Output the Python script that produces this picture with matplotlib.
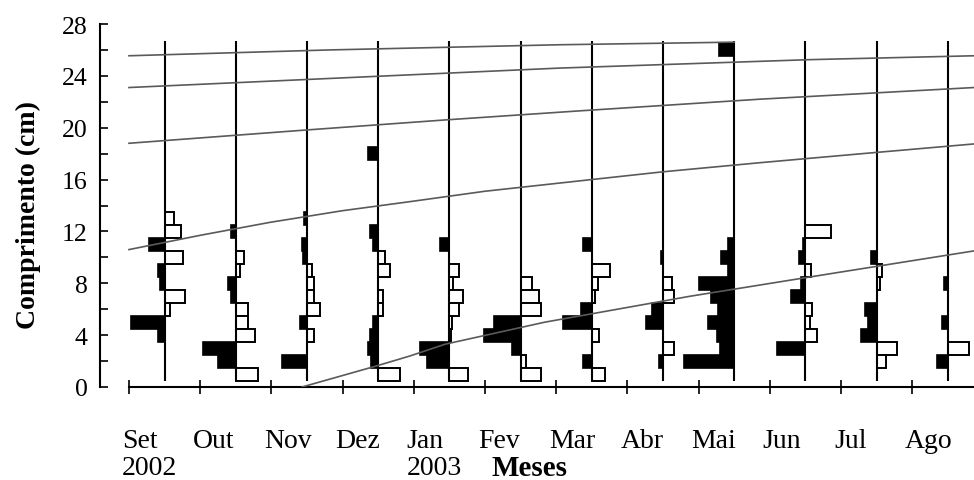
import numpy as np
import matplotlib
matplotlib.use("Agg")
import matplotlib.pyplot as plt

plt.rcParams['font.family'] = ['Liberation Serif', 'DejaVu Serif']

# meses de amostragem (set/2002 a ago/2003)
meses = ['Set', 'Out', 'Nov', 'Dez', 'Jan', 'Fev', 'Mar', 'Abr', 'Mai', 'Jun', 'Jul', 'Ago']
anos = {0: '2002', 4: '2003'}

# frequencia por classe de comprimento (cm) - barras pretas (esquerda)
freq_preto = [
    {11: 16, 9: 7, 8: 5, 5: 34, 4: 7},
    {12: 5, 8: 8, 7: 5, 3: 33, 2: 18},
    {13: 3, 11: 5, 10: 4, 5: 7, 2: 25},
    {18: 10.5, 12: 8.5, 11: 5, 5: 5, 4: 8, 3: 10.5, 2: 7.5},
    {11: 9, 3: 29, 2: 22},
    {5: 26.5, 4: 36.5, 3: 8.3},
    {11: 8.3, 6: 10.7, 5: 28.3, 2: 8.3},
    {10: 1.5, 6: 10.7, 5: 16.7, 2: 3.5},
    {26: 14.7, 11: 6, 10: 13.3, 9: 6, 8: 34.7, 7: 23.3, 6: 16, 5: 26.3, 4: 17, 3: 13.7, 2: 50},
    {11: 2, 10: 6.7, 8: 4, 7: 14.7, 3: 28},
    {10: 5.3, 6: 12, 5: 8.7, 4: 15.3},
    {8: 3.5, 5: 5.3, 2: 10.3},
]

# barras brancas (direita)
freq_branco = [
    {13: 9, 12: 16, 10: 18, 7: 20, 6: 5},
    {10: 8, 9: 4, 6: 12, 5: 12, 4: 19, 1: 22},
    {9: 5, 8: 7, 7: 7, 6: 13.5, 4: 7},
    {10: 6.7, 9: 11.5, 7: 5, 6: 5, 1: 22},
    {9: 10, 8: 3.3, 7: 13.3, 6: 9.5, 5: 2.3, 4: 2, 1: 18.3},
    {8: 11.7, 7: 18.5, 6: 20, 2: 5, 1: 20},
    {9: 18.3, 8: 6.7, 7: 3.3, 4: 7.3, 1: 13.3},
    {8: 9, 7: 10.7, 3: 10.7},
    {},
    {12: 25.3, 9: 5.3, 6: 7, 5: 5, 4: 12},
    {9: 5, 8: 3.3, 3: 20.7, 2: 9.7},
    {3: 21.5},
]

# curvas de crescimento (tempo em meses desde set/2002, comprimento em cm)
curva1_t = [2.43, 3.46, 3.95, 4.44, 5.84, 7.88, 9.92, 11.87]
curva1_L = [0, 1.6, 2.4, 3.3, 5.0, 7.0, 8.8, 10.5]
curva2_t = [0, 1.0, 1.98, 3.0, 3.95, 5.0, 6.33, 7.5, 8.86, 10.3, 11.87]
curva2_L = [10.6, 11.7, 12.7, 13.6, 14.3, 15.1, 15.9, 16.6, 17.3, 18.0, 18.75]
curva3_t = [0, 2.43, 4.44, 6.33, 8.86, 11.87]
curva3_L = [18.8, 19.8, 20.6, 21.3, 22.2, 23.1]
curva4_t = [0, 2.82, 6.05, 9.56, 11.87]
curva4_L = [23.1, 23.8, 24.6, 25.25, 25.55]
curva5_t = [0, 2.82, 6.05, 8.5]
curva5_L = [25.55, 26.0, 26.4, 26.6]

escala = 1 / 71.2  # largura das barras (meses por unidade de frequencia)

fig = plt.figure(figsize=(9.74, 4.81), dpi=100)
ax = fig.add_axes([100 / 974, 93 / 481, 874 / 974, 363 / 481])

for i in range(len(meses)):
    base = i + 0.5
    p = freq_preto[i]
    b = freq_branco[i]
    if p:
        ax.barh(list(p.keys()), [-v * escala for v in p.values()], left=base, height=1,
                color='black', edgecolor='black', lw=1.2, zorder=2)
    if b:
        ax.barh(list(b.keys()), [v * escala for v in b.values()], left=base, height=1,
                facecolor='white', edgecolor='black', lw=1.4, zorder=2)
    ax.vlines(base, 0.45, 26.7, color='black', lw=1.5, zorder=3)

for t, L in [(curva1_t, curva1_L), (curva2_t, curva2_L), (curva3_t, curva3_L),
             (curva4_t, curva4_L), (curva5_t, curva5_L)]:
    ax.plot(t, L, color='#5a5a5a', lw=1.2, zorder=4)

ax.set_xlim(-0.407, 11.868)
ax.set_ylim(0, 28)

ax.spines['top'].set_visible(False)
ax.spines['right'].set_visible(False)
ax.spines['left'].set_linewidth(1.5)
ax.spines['bottom'].set_linewidth(1.5)
ax.spines['bottom'].set_bounds(0, 11.868)

ax.set_yticks(np.arange(0, 29, 4))
ax.set_yticks(np.arange(2, 28, 4), minor=True)
ax.tick_params(axis='y', which='both', direction='in', length=6, width=1.2,
               labelsize=18.5, pad=9)
ax.set_xticks(range(12))
ax.set_xticklabels([])
ax.tick_params(axis='x', direction='inout', length=10, width=1.2)

tr = ax.get_xaxis_transform()
for i, m in enumerate(meses):
    ax.text(i - 0.1, -0.147, m, transform=tr, ha='left', va='center', fontsize=20)
for i, a in anos.items():
    ax.text(i - 0.1, -0.222, a, transform=tr, ha='left', va='center', fontsize=20)

fig.text(530 / 974, 1 - 469 / 481, 'Meses', ha='center', va='center',
         fontsize=21, fontweight='bold')
fig.text(28 / 974, 1 - 215 / 481, 'Comprimento (cm)', rotation=90, ha='center',
         va='center', fontsize=20, fontweight='bold')

fig.savefig('out.png', dpi=100)
